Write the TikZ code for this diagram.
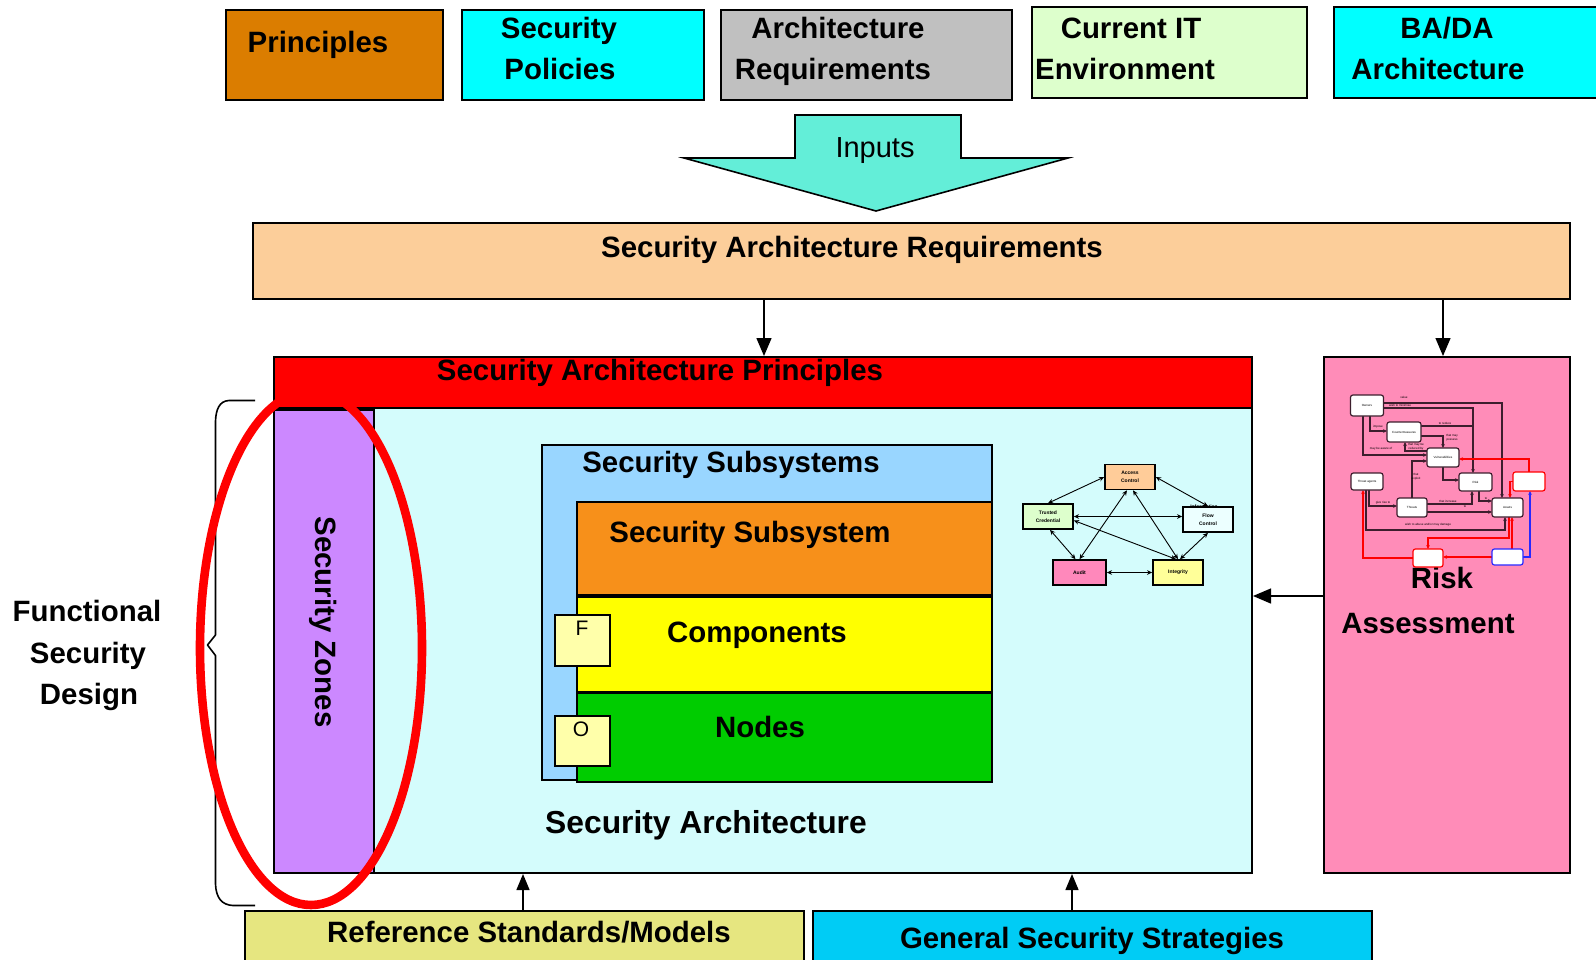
\documentclass[tikz,border=0pt]{standalone}
\usepackage{fontspec}
\setmainfont{Liberation Sans}
\usetikzlibrary{arrows.meta,fit}

\definecolor{cPrin}{RGB}{219,125,0}
\definecolor{cCyan}{RGB}{0,255,255}
\definecolor{cGrey}{RGB}{192,192,192}
\definecolor{cPaleGreen}{RGB}{221,255,204}
\definecolor{cInputs}{RGB}{99,238,216}
\definecolor{cPeach}{RGB}{252,206,154}
\definecolor{cArch}{RGB}{212,252,252}
\definecolor{cZone}{RGB}{204,136,255}
\definecolor{cSubs}{RGB}{153,214,255}
\definecolor{cSub}{RGB}{247,144,26}
\definecolor{cComp}{RGB}{255,255,0}
\definecolor{cNodes}{RGB}{0,204,0}
\definecolor{cFO}{RGB}{255,255,170}
\definecolor{cRisk}{RGB}{255,140,184}
\definecolor{cRef}{RGB}{230,230,128}
\definecolor{cGen}{RGB}{0,204,245}
\definecolor{cAC}{RGB}{255,204,153}
\definecolor{cAudit}{RGB}{255,136,187}
\definecolor{cInteg}{RGB}{255,255,153}
\definecolor{cFlow}{RGB}{236,255,255}
\definecolor{cLine}{RGB}{60,30,45}
\definecolor{cRed}{RGB}{255,0,0}
\definecolor{cBlue}{RGB}{40,40,255}

\tikzset{
  box/.style={draw=black, line width=1pt, inner sep=0pt},
  big/.style={font=\fontsize{14.7}{20.5}\selectfont\bfseries, inner sep=0pt, anchor=base},
  arr/.style={-{Triangle[length=9pt,width=7.5pt]}, line width=0.7pt},
  uparr/.style={-{Triangle[length=8pt,width=6.5pt]}, line width=0.7pt},
  gbox/.style={draw=black, line width=0.8pt, inner sep=0pt, minimum width=25pt,
    minimum height=12.5pt, align=center, font=\fontsize{2.5}{4}\selectfont\bfseries},
  garr/.style={{Stealth[length=2.6pt,width=2.3pt]}-{Stealth[length=2.6pt,width=2.3pt]}, line width=0.45pt},
  rbox/.style={draw=cLine, fill=white, line width=0.6pt, rounded corners=1.2pt, inner sep=0pt,
    font=\fontsize{1.5}{2}\selectfont},
  redge/.style={draw=cLine, line width=0.65pt, -{Stealth[length=2pt,width=1.8pt]}},
  rtiny/.style={font=\fontsize{1.5}{2}\selectfont, inner sep=0pt, align=center},
}

\begin{document}
\begin{tikzpicture}[x=0.5pt, y=-0.5pt]
\useasboundingbox (0,0) rectangle (1596,959);

% ---------- input boxes along the top ----------
\node[box, fill=cPrin, fit={(226,10) (443,100)}] (prin) {};
\node[box, fill=cCyan, fit={(462,10) (704,100)}] (pol) {};
\node[box, fill=cGrey, fit={(721,10) (1012,100)}] (areq) {};
\node[box, fill=cPaleGreen, fit={(1032,7) (1307,98)}] (curit) {};
\node[box, fill=cCyan, fit={(1334,7) (1600,98)}] (bada) {};

\node[big] (prin-t) at (318,52) {Principles};
\node[big] (pol-t1) at (559,38) {Security};
\node[big] (pol-t2) at (560,79) {Policies};
\node[big] (areq-t1) at (838,38) {Architecture};
\node[big] (areq-t2) at (833,79) {Requirements};
\node[big] (curit-t1) at (1131,38) {Current IT};
\node[big] (curit-t2) at (1125,79) {Environment};
\node[big] (bada-t1) at (1447,38) {BA/DA};
\node[big] (bada-t2) at (1438,79) {Architecture};

% ---------- block arrow ----------
\draw[fill=cInputs, line width=0.8pt, line join=miter]
  (795,158) -- (795,115) -- (961,115) -- (961,158) -- (1068,158)
  -- (876,211) -- (684,158) -- cycle;
\node[font=\fontsize{14.5}{17}\selectfont, inner sep=0pt, anchor=base] (inputs) at (875,157) {Inputs};

% ---------- requirements bar ----------
\node[box, fill=cPeach, fit={(253,223) (1570,299)}] (sar) {};
\node[big] (sar-t) at (852,257) {Security Architecture Requirements};

% ---------- security architecture ----------
\node[box, fill=cArch, fit={(274,408) (1252,873)}] (sa) {};
\node[box, fill=cRed, fit={(274,357) (1252,408)}] (sap) {};
\node[big] (sap-t) at (660,380) {Security Architecture Principles};
\node[box, fill=cZone, fit={(274,410) (374,873)}] (zones) {};
\node[big, rotate=-90] (zones-t) at (315,622) {Security Zones};

% subsystems stack
\node[box, fill=cSubs, fit={(542,445) (992,780)}] (subs) {};
\node[big] (subs-t) at (731,472) {Security Subsystems};
\node[box, fill=cSub, fit={(577,502) (992,595)}] (sub) {};
\node[big] (sub-t) at (750,542) {Security Subsystem};
\node[box, fill=cComp, fit={(577,597) (992,692)}] (comp) {};
\node[big] (comp-t) at (757,642) {Components};
\node[box, fill=cNodes, fit={(577,693) (992,782)}] (nodes) {};
\node[big] (nodes-t) at (760,737) {Nodes};
\node[box, fill=cFO, fit={(555,615) (610,666)}] (fbox) {};
\node[font=\fontsize{10.5}{12}\selectfont, inner sep=0pt, anchor=base] (f-t) at (582,635) {F};
\node[box, fill=cFO, fit={(555,716) (610,766)}] (obox) {};
\node[font=\fontsize{10.5}{12}\selectfont, inner sep=0pt, anchor=base] (o-t) at (581,736) {O};

\node[big, font=\fontsize{15.9}{20}\selectfont\bfseries] (sa-t) at (706,833) {Security Architecture};

% security services graph
\node[font=\fontsize{2.5}{4}\selectfont\bfseries, inner sep=0pt] (info-t) at (1204,507) {Information};
\node[gbox, fill=cAC] (ac) at (1130,477) {Access\\Control};
\node[gbox, fill=cPaleGreen] (tc) at (1048,516.5) {Trusted\\Credential};
\node[gbox, fill=cFlow] (fc) at (1208,519.5) {Flow\\Control};
\node[gbox, fill=cAudit, minimum width=26.5pt] (au) at (1079.5,572.5) {Audit};
\node[gbox, fill=cInteg] (in) at (1178,572.5) {Integrity};

\draw[garr] (ac.west) -- (tc.north);
\draw[garr] ([xshift=-1.5pt]ac.south) -- (au.north);
\draw[garr] ([xshift=1.5pt]ac.south) -- (in.north);
\draw[garr] (ac.east) -- (fc.north);
\draw[garr] (tc.east) -- (fc.west |- tc.east);
\draw[garr] ([yshift=-2pt]tc.east) -- ([xshift=-1pt]in.north);
\draw[garr] ([xshift=1pt]tc.south) -- ([xshift=-2pt]au.north);
\draw[garr] (fc.south) -- ([xshift=1pt]in.north);
\draw[garr] (au.east) -- (in.west);

% ---------- risk assessment ----------
\node[box, fill=cRisk, fit={(1324,357) (1570,873)}] (risk) {};
\node[big] (risk-t1) at (1442,588) {Risk};
\node[big] (risk-t2) at (1428,633) {Assessment};

% risk model: edges first, boxes on top
\coordinate (rk-n) at (1473,473);
\draw[redge] (1383,403) -- (1502,403) -- (1502,498);
\draw[redge] (1383,408) -- (1473,408) -- (rk-n);
\draw[redge] (1370,416) -- (1370,431) -- (1387,431);
\draw[redge] (1363,416) -- (1363,455) -- (1427,455);
\draw[draw=cLine, line width=0.65pt] (1421,426) -- (1473,426);
\draw[redge] (1421,436) -- (1443,436) -- (1443,448);
\draw[redge] (1427,451) -- (1405,451) -- (1405,442);
\draw[redge] (1443,467) -- (1443,480) -- (1459,480);
\draw[redge] (1369,490) -- (1369,506) -- (1397,506);
\draw[redge] (1366,490) -- (1366,530) -- (1505,530) -- (1505,517);
\draw[redge] (1412,498) -- (1412,461) -- (1427,461);
\draw[redge] (1427,504) -- (1472,504) -- (1472,491);
\draw[redge] (1427,512) -- (1492,512);
\draw[redge] (1479,491) -- (1479,501) -- (1492,501);
\draw[redge, draw=cRed] (1529,472) -- (1529,459) -- (1459,459);
\draw[redge, draw=cRed] (1513,481.5) -- (1510,481.5) -- (1510,498);
\draw[redge, draw=cRed] (1509,517) -- (1509,538) -- (1428,538) -- (1428,549);
\draw[redge, draw=cRed] (1492,557) -- (1443,557);
\draw[redge, draw=cRed] (1413,558) -- (1363,558) -- (1363,490);
\draw[redge, draw=cRed] (1512,549) -- (1512,517);
\draw[redge, draw=cBlue] (1523,557) -- (1530,557) -- (1530,491);

\node[rbox, minimum width=16.5pt, minimum height=10.5pt] (ow) at (1367,405.5) {Owners};
\node[rbox, minimum width=17pt, minimum height=10pt] (cm) at (1404,432) {Countermeasures};
\node[rbox, minimum width=16pt, minimum height=9.5pt] (vu) at (1443,457.5) {Vulnerabilities};
\node[rbox, minimum width=16pt, minimum height=8.5pt] (ta) at (1367,481.5) {Threat agents};
\node[rbox, minimum width=16.5pt, minimum height=9pt] (rk) at (1475.5,482) {Risk};
\node[rbox, draw=cRed, minimum width=16pt, minimum height=9.5pt] (pr) at (1529,481.5) {};
\node[rbox, minimum width=15pt, minimum height=9.5pt] (th) at (1412,507.5) {Threats};
\node[rbox, minimum width=15.5pt, minimum height=9.5pt] (as) at (1507.5,507.5) {Assets};
\node[rbox, draw=cRed, minimum width=15pt, minimum height=9pt] (rd) at (1428,558) {};
\node[rbox, draw=cBlue, minimum width=15.5pt, minimum height=8pt] (bl) at (1507.5,557) {};

\node[rtiny] (l1) at (1404,397) {value};
\node[rtiny] (l2) at (1400,405.5) {wish to minimise};
\node[rtiny] (l3) at (1378,427) {impose};
\node[rtiny] (l4) at (1381,449) {may be aware of};
\node[rtiny] (l5) at (1445,423) {to reduce};
\node[rtiny] (l6) at (1452,438) {that may\\possess};
\node[rtiny] (l7) at (1416,447) {that may be\\reduced by};
\node[rtiny] (l8) at (1416,477) {that\\exploit};
\node[rtiny] (l9) at (1383,503) {give rise to};
\node[rtiny] (l10) at (1448,501) {that increase};
\node[rtiny] (l11) at (1465,507) {to};
\node[rtiny] (l12) at (1486,499) {to};
\node[rtiny] (l13) at (1428,525) {wish to abuse and/or may damage};

% ---------- guidance inputs at the bottom ----------
\node[box, fill=cRef, fit={(245,911) (804,965)}] (refs) {};
\node[big] (refs-t) at (529,942) {Reference Standards/Models};
\node[box, fill=cGen, fit={(813,911) (1372,965)}] (gen) {};
\node[big] (gen-t) at (1092,948) {General Security Strategies};

% ---------- connectors ----------
\draw[arr] (sar.south -| 764,0) -- (sap.north -| 764,0);
\draw[arr] (sar.south -| 1443,0) -- (risk.north -| 1443,0);
\draw[arr] (risk.west |- 0,596) -- (sa.east |- 0,596);
\draw[uparr] (refs.north -| 523,0) -- (sa.south -| 523,0);
\draw[uparr] (gen.north -| 1072,0) -- (sa.south -| 1072,0);

% ---------- brace and side label ----------
\draw[line width=0.8pt, line join=round]
  (255,400.5) -- (229,400.5) .. controls (219,401) and (216,410) .. (215.5,421)
  -- (215.5,635) -- (207.5,645) -- (215.5,655.5) -- (215.5,884)
  .. controls (216,898) and (222,905) .. (233,905.5) -- (255,905.5);
\node[big] (fsd1) at (87,621) {Functional};
\node[big] (fsd2) at (88,663) {Security};
\node[big] (fsd3) at (89,704) {Design};

% highlight ring round the zones
\draw[cRed, line width=4.3pt] (311,648) ellipse [x radius=111, y radius=257];

\end{tikzpicture}
\end{document}
